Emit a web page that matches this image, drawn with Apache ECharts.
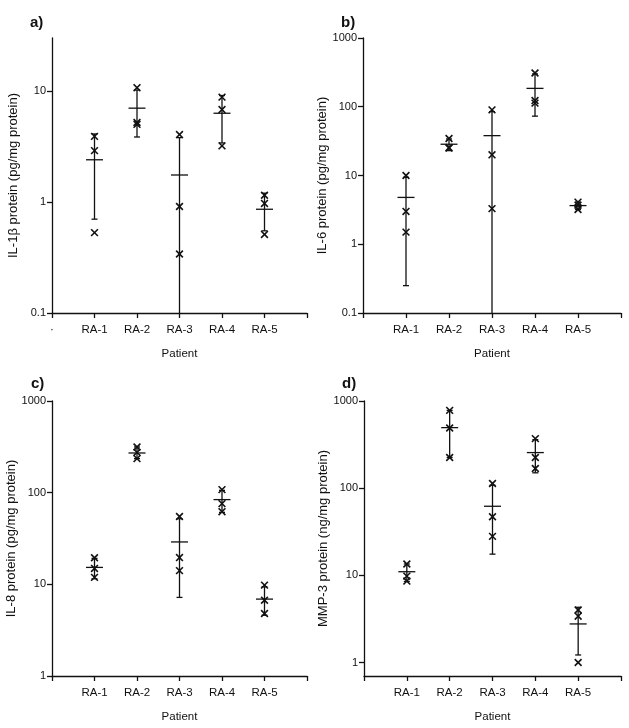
<!DOCTYPE html>
<html>
<head>
<meta charset="utf-8">
<script src="https://cdn.jsdelivr.net/npm/echarts@6/dist/echarts.min.js"></script>
<style>
  html, body { margin: 0; padding: 0; background: #fff; }
  #chart { width: 629px; height: 728px; }
</style>
</head>
<body>
<div id="chart"></div>
<script>
// patients on the x axis (positions 1..5, axis runs 0..6)
const patients = ["RA-1", "RA-2", "RA-3", "RA-4", "RA-5"];

// individual measurements per patient (three each)
const il1bValues = [[3.9, 2.9, 0.53], [10.7, 5.2, 5.0], [4.05, 0.91, 0.34], [8.8, 6.8, 3.2], [1.15, 0.97, 0.51]];
const il6Values = [[10, 3.0, 1.5], [34.5, 25.5, 25], [90, 20, 3.3], [310, 123, 113], [4.1, 3.7, 3.2]];
const il8Values = [[19.5, 14.9, 11.9], [315, 275, 235], [55, 19.6, 14.1], [108, 76, 62], [9.8, 6.7, 4.8]];
const mmp3Values = [[13.5, 9.8, 8.6], [780, 490, 225], [113, 47, 28], [370, 225, 168], [4.0, 3.4, 1.0]];

// means and error bar ends (null = runs below the axis)
const il1bMean = [2.4, 7.0, 1.75, 6.3, 0.86];
const il1bLow = [0.70, 3.85, null, 3.4, 0.55];
const il1bHigh = [4.1, 10.2, 3.8, 9.1, 1.2];

const il6Mean = [4.8, 28.5, 38, 185, 3.65];
const il6Low = [0.25, 23, null, 73, 3.2];
const il6High = [9.4, 34, 85, 300, 4.1];

const il8Mean = [15.3, 271, 29, 84, 6.9];
const il8Low = [11.5, 235, 7.2, 61, 4.6];
const il8High = [19.2, 315, 52, 106, 9.4];

const mmp3Mean = [11.0, 495, 62, 256, 2.77];
const mmp3Low = [8.5, 225, 17.5, 150, 1.22];
const mmp3High = [13.5, 780, 108, 360, 4.3];

// y tick labels per panel
const ticksA = [0.1, 1, 10];
const ticksB = [0.1, 1, 10, 100, 1000];
const ticksC = [1, 10, 100, 1000];
const ticksD = [1, 10, 100, 1000];

const xLabelsA = ["·", ...patients, ""];
const xLabelsOther = ["", ...patients, ""];

const INK = "#111";
const FONT = "'Liberation Sans', Arial, sans-serif";

const panels = [
  { tag: "a)", values: il1bValues, mean: il1bMean, low: il1bLow, high: il1bHigh, min: 0.1, max: 30, ticks: ticksA,
    xLabels: xLabelsA, name: "IL-1β protein (pg/mg protein)", grid: { left: 52, top: 38, width: 255, height: 275 }, nameGap: 32 },
  { tag: "b)", values: il6Values, mean: il6Mean, low: il6Low, high: il6High, min: 0.1, max: 1000, ticks: ticksB,
    xLabels: xLabelsOther, name: "IL-6 protein (pg/mg protein)", grid: { left: 363, top: 38, width: 258, height: 275 }, nameGap: 28 },
  { tag: "c)", values: il8Values, mean: il8Mean, low: il8Low, high: il8High, min: 1, max: 1000, ticks: ticksC,
    xLabels: xLabelsOther, name: "IL-8 protein (pg/mg protein)", grid: { left: 52, top: 401, width: 255, height: 275 }, nameGap: 32 },
  { tag: "d)", values: mmp3Values, mean: mmp3Mean, low: mmp3Low, high: mmp3High, min: 0.7, max: 1000, ticks: ticksD,
    xLabels: xLabelsOther, name: "MMP-3 protein (ng/mg protein)", grid: { left: 364, top: 401, width: 257, height: 275 }, nameGap: 29 },
];

const tagPos = [[25, 10], [336, 10], [26, 371], [337, 371]];

const grids = [], xAxes = [], yAxes = [], series = [], titles = [];

panels.forEach((p, i) => {
  grids.push(p.grid);
  titles.push({
    text: p.tag, left: tagPos[i][0], top: tagPos[i][1],
    textStyle: { fontFamily: FONT, fontSize: 15, fontWeight: "bold", color: INK },
  });
  xAxes.push({
    type: "value", gridIndex: i, min: 0, max: 6, interval: 1,
    name: "Patient", nameLocation: "middle", nameGap: 35,
    nameTextStyle: { fontFamily: FONT, fontSize: 11.5, color: INK },
    axisLine: { onZero: false, lineStyle: { color: INK, width: 1.3 } },
    axisTick: { length: 5, lineStyle: { color: INK, width: 1.3 } },
    axisLabel: { margin: 11, fontFamily: FONT, fontSize: 11.5, color: INK, formatter: v => p.xLabels[v] ?? "" },
    splitLine: { show: false },
  });
  yAxes.push({
    type: "log", logBase: 10, gridIndex: i, min: p.min, max: p.max,
    name: p.name, nameLocation: "middle", nameGap: p.nameGap,
    nameTextStyle: { fontFamily: FONT, fontSize: 13, color: INK },
    axisLine: { show: true, lineStyle: { color: INK, width: 1.3 } },
    axisTick: { show: true, length: 5, customValues: p.ticks, lineStyle: { color: INK, width: 1.3 } },
    axisLabel: { margin: 6, fontFamily: FONT, fontSize: 11, color: INK, customValues: p.ticks, formatter: v => String(v) },
    splitLine: { show: false },
    minorTick: { show: false },
  });

  // error bars + mean lines
  const barData = p.mean.map((m, k) => [k + 1, m, p.low[k], p.high[k]]);
  series.push({
    type: "custom", xAxisIndex: i, yAxisIndex: i, data: barData, silent: true,
    renderItem: (params, api) => {
      const x = api.value(0);
      const cs = params.coordSys;
      const mid = api.coord([x, api.value(1)]);
      const lowVal = p.low[params.dataIndex];
      const top = api.coord([x, api.value(3)]);
      const bottomY = lowVal == null ? cs.y + cs.height : api.coord([x, lowVal])[1];
      const style = { stroke: INK, lineWidth: 1.3 };
      const kids = [
        { type: "line", shape: { x1: mid[0], y1: top[1], x2: mid[0], y2: bottomY }, style },
        { type: "line", shape: { x1: mid[0] - 8.5, y1: mid[1], x2: mid[0] + 8.5, y2: mid[1] }, style },
        { type: "line", shape: { x1: mid[0] - 3, y1: top[1], x2: mid[0] + 3, y2: top[1] }, style },
      ];
      if (lowVal != null) {
        kids.push({ type: "line", shape: { x1: mid[0] - 3, y1: bottomY, x2: mid[0] + 3, y2: bottomY }, style });
      }
      return { type: "group", children: kids };
    },
  });

  // individual measurements as crosses
  const pts = [];
  p.values.forEach((vals, k) => vals.forEach(v => pts.push([k + 1, v])));
  series.push({
    type: "custom", xAxisIndex: i, yAxisIndex: i, data: pts, silent: true,
    renderItem: (params, api) => {
      const c = api.coord([api.value(0), api.value(1)]);
      const h = 3.4;
      const style = { stroke: INK, lineWidth: 1.6 };
      return {
        type: "group",
        children: [
          { type: "line", shape: { x1: c[0] - h, y1: c[1] - h, x2: c[0] + h, y2: c[1] + h }, style },
          { type: "line", shape: { x1: c[0] - h, y1: c[1] + h, x2: c[0] + h, y2: c[1] - h }, style },
        ],
      };
    },
  });
});

const chart = echarts.init(document.getElementById("chart"), null, { renderer: "canvas" });
chart.setOption({
  animation: false,
  backgroundColor: "#fff",
  title: titles,
  grid: grids,
  xAxis: xAxes,
  yAxis: yAxes,
  series: series,
});
</script>
</body>
</html>
